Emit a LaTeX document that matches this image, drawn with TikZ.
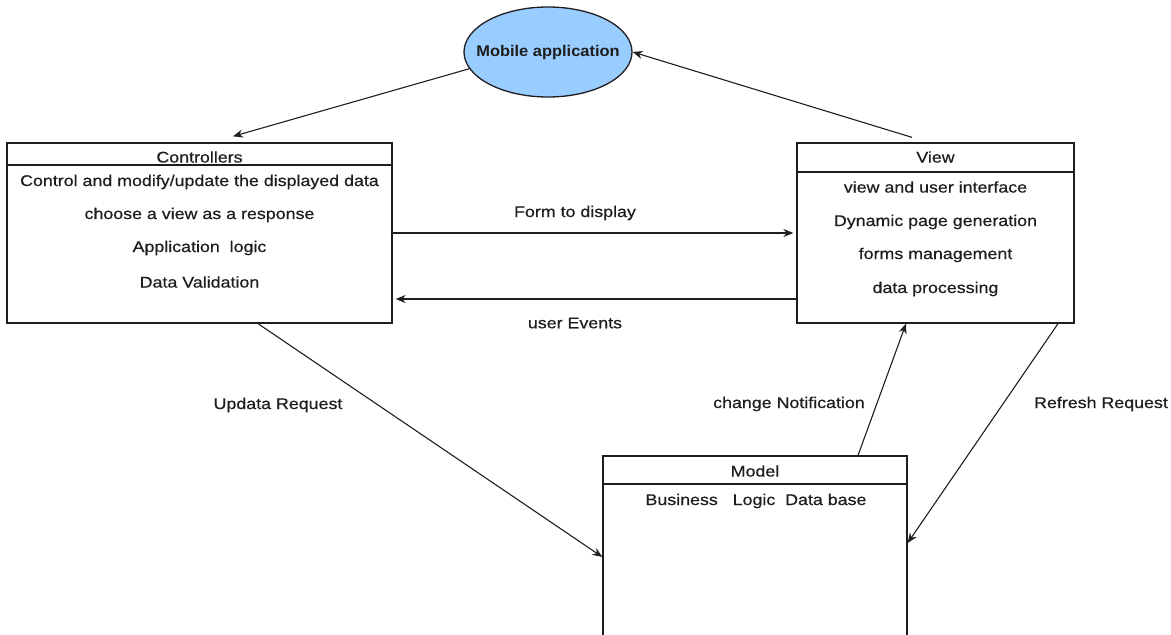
\documentclass[tikz,border=0pt]{standalone}
\usepackage{fontspec}
\setmainfont[FakeStretch=1.15,FakeBold=0.6]{Liberation Sans}
\newfontfamily\mobfont[FakeStretch=1.06]{Liberation Sans}
\usetikzlibrary{shapes.geometric,arrows.meta}
\definecolor{mobfill}{RGB}{153,204,255}
\definecolor{ink}{RGB}{30,30,30}
\begin{document}
\begin{tikzpicture}[x=1pt,y=-1pt,
  box/.style={draw=ink, line width=1.3pt, rectangle, inner sep=0pt},
  txt/.style={font=\fontsize{15.5}{18}\selectfont, text=ink, inner sep=0pt},
  arr/.style={draw=ink, -{Stealth[length=10pt,width=8pt]}, line width=1.1pt}]
\useasboundingbox (0,0) rectangle (1171,635);
\clip (0,0) rectangle (1171,635);

% components
\node[ellipse, draw=ink, line width=1.3pt, fill=mobfill,
      minimum width=168pt, minimum height=90pt, inner sep=0pt] (mob) at (548,52) {};
\node[font=\mobfont\bfseries\fontsize{15.5}{18}\selectfont, text=ink, inner sep=0pt] (mobt) at (mob.center) {Mobile application};
\node[box, minimum width=385pt, minimum height=180pt] (ctrl) at (199.5,233) {};
\node[box, minimum width=277pt, minimum height=180pt] (view) at (935.5,233) {};
\node[box, minimum width=304pt, minimum height=194pt] (model) at (755,553) {};

% header separators
\draw[ink, line width=1.3pt] (ctrl.west |- 0,165) -- (ctrl.east |- 0,165);
\draw[ink, line width=1.3pt] (view.west |- 0,172) -- (view.east |- 0,172);
\draw[ink, line width=1.3pt] (model.west |- 0,484) -- (model.east |- 0,484);

% controller texts
\node[txt] (ct) at (199.5,157) {Controllers};
\node[txt] (c1) at (199.5,182) {Control and modify/update the displayed data};
\node[txt] (c2) at (199.5,215) {choose a view as a response};
\node[txt] (c3) at (199.5,248) {Application\ \ logic};
\node[txt] (c4) at (199.5,282) {Data Validation};

% view texts
\node[txt] (vt) at (935.5,157) {View};
\node[txt] (v1) at (935.5,187) {view and user interface};
\node[txt] (v2) at (935.5,222) {Dynamic page generation};
\node[txt] (v3) at (935.5,255) {forms management};
\node[txt] (v4) at (935.5,289) {data processing};

% model texts
\node[txt] (mt) at (755,471) {Model};
\node[txt] (m1) at (756,501) {Business\ \ \ Logic\ \ Data base};

% connectors
\draw[arr] (mob.192) -- ([xshift=33.5pt,yshift=6pt]ctrl.north);
\draw[arr] ([xshift=-23.5pt,yshift=5pt]view.north) -- (mob.east);
\draw[arr] ([xshift=-2pt]ctrl.east) -- ([xshift=-3pt]view.west);
\draw[arr] ([yshift=-66pt]view.west) -- ([yshift=-66pt,xshift=3pt]ctrl.east);
\draw[arr] ([xshift=58.5pt]ctrl.south) -- ([yshift=-4pt]model.west);
\draw[arr] ([xshift=103pt]model.north) -- ([xshift=-29.5pt]view.south);
\draw[arr] ([xshift=122.5pt]view.south) -- ([yshift=10pt]model.east);

% connector labels
\node[txt] (l1) at (575,213) {Form to display};
\node[txt] (l2) at (575,323) {user Events};
\node[txt] (l3) at (278,405) {Updata Request};
\node[txt] (l4) at (789,404) {change Notification};
\node[txt] (l5) at (1101,404) {Refresh Request};
\end{tikzpicture}
\end{document}
